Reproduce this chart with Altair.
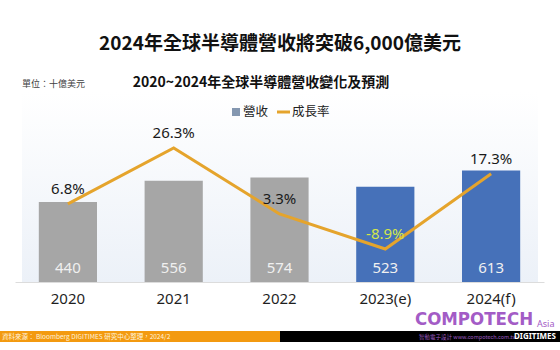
import altair as alt
import pandas as pd

# ---- data ----
years = ["2020", "2021", "2022", "2023(e)", "2024(f)"]
revenue = [440, 556, 574, 523, 613]
growth = [6.8, 26.3, 3.3, -8.9, 17.3]
kind = ["actual", "actual", "actual", "forecast", "forecast"]
growth_labels = ["6.8%", "26.3%", "3.3%", "-8.9%", "17.3%"]

df = pd.DataFrame({
    "year": years,
    "revenue": revenue,
    "growth": growth,
    "kind": kind,
    "glabel": growth_labels,
})

W, H = 529, 182
CJK = "Noto Sans CJK TC"
NUM = "Noto Sans"

xscale = alt.Scale(domain=years, paddingInner=0.45, paddingOuter=0.225)
x_axis = alt.X("year:N", sort=years, scale=xscale,
               axis=alt.Axis(title=None, labelAngle=0, labelFontSize=15, labelColor="#1f1f1f",
                             labelFont=NUM, labelPadding=9, ticks=False,
                             domainColor="#dcdcdc", domainWidth=1))

bar_y = alt.Scale(domain=[0, 1000], nice=False, zero=True)
rate_y = alt.Scale(domain=[-20.4, 43], nice=False, zero=False)

one = alt.Data(values=[{}])


def deco_text(s, x, y, **kw):
    return alt.Chart(one).mark_text(text=s, **kw).encode(x=alt.value(x), y=alt.value(y))


def deco_rect(x, x2, y, y2, color):
    return alt.Chart(one).mark_rect(color=color).encode(
        x=alt.value(x), x2=alt.value(x2), y=alt.value(y), y2=alt.value(y2))


# background gradient of the plot area
bg = alt.Chart(one).mark_rect().encode(
    x=alt.value(7), x2=alt.value(523), y=alt.value(-8), y2=alt.value(H),
    color=alt.value(alt.LinearGradient(
        gradient="linear", x1=0, y1=0, x2=0, y2=1,
        stops=[alt.GradientStop(color="#ffffff", offset=0),
               alt.GradientStop(color="#ecf1f8", offset=1)])),
)

bars = alt.Chart(df).mark_bar().encode(
    x=x_axis,
    y=alt.Y("revenue:Q", scale=bar_y, axis=None),
    color=alt.Color("kind:N", scale=alt.Scale(domain=["actual", "forecast"],
                                              range=["#a6a6a6", "#4671b9"]), legend=None),
)

bar_labels = alt.Chart(df).transform_calculate(zero="0").mark_text(
    font=NUM, fontSize=15, color="#f0f0f0", baseline="middle", dy=-14
).encode(
    x=x_axis,
    y=alt.Y("zero:Q", scale=bar_y, axis=None),
    text="revenue:Q",
)

line = alt.Chart(df).mark_line(color="#e5a42c", strokeWidth=3).encode(
    x=x_axis,
    y=alt.Y("growth:Q", scale=rate_y, axis=None),
)

line_labels = alt.Chart(df).mark_text(
    font=NUM, fontSize=15, baseline="middle", dy=-15
).encode(
    x=x_axis,
    y=alt.Y("growth:Q", scale=rate_y, axis=None),
    text="glabel:N",
    color=alt.condition("datum.growth < 0", alt.value("#d4e64a"), alt.value("#1a1a1a")),
)

# titles / legend / footer decorations (pixel positions relative to plot origin)
title = deco_text("2024年全球半導體營收將突破6,000億美元", 265, -56,
                  font=CJK, fontSize=19, fontWeight="bold", color="#111111", baseline="middle")
subtitle = deco_text("2020~2024年全球半導體營收變化及預測", 246, -17,
                     font=CJK, fontSize=14, fontWeight="bold", color="#111111", baseline="middle")
unit = deco_text("單位：十億美元", 7, -16, font=CJK, fontSize=9, color="#404040",
                 align="left", baseline="middle")

leg_sq = alt.Chart(one).mark_square(color="#8497b0", size=64, opacity=1).encode(
    x=alt.value(221), y=alt.value(12))
leg_t1 = deco_text("營收", 228, 12, font=CJK, fontSize=12.5, color="#222222",
                   align="left", baseline="middle")
leg_ln = alt.Chart(one).mark_rule(color="#e5a42c", strokeWidth=3).encode(
    x=alt.value(262), x2=alt.value(275), y=alt.value(12))
leg_t2 = deco_text("成長率", 277, 12, font=CJK, fontSize=12.5, color="#222222",
                   align="left", baseline="middle")

FY = H  # footer offsets measured from the plot's bottom edge
foot_orange = deco_rect(-15, 267, FY + 49, FY + 60, "#f39a10")
foot_black = deco_rect(265, 545, FY + 49, FY + 60, "#000000")
foot_text = deco_text("資料來源：  Bloomberg DIGITIMES 研究中心整理，2024/2", -13, FY + 54.5,
                      font=CJK, fontSize=6.5, color="#fff3dc", align="left", baseline="middle")
compo = deco_text("COMPOTECH", 459, FY + 37,
                  font="DejaVu Sans Condensed, Liberation Sans Narrow, Roboto", fontSize=18.5,
                  fontWeight="bold", color="#a35cc6", baseline="middle")
asia = deco_text("Asia", 522, FY + 42, font=NUM, fontSize=9, color="#a35cc6",
                 align="left", baseline="middle")
compo_sub = deco_text("智動電子設計 www.compotech.com.tw", 404, FY + 55, font=CJK, fontSize=5.5,
                      color="#9d5ac0", align="left", baseline="middle")
digi = deco_text("DIGITIMES", 541, FY + 55, font=NUM, fontSize=8, fontWeight="bold",
                 color="#ffffff", align="right", baseline="middle")

bar_layer = alt.layer(bars, bar_labels)
line_layer = alt.layer(line, line_labels)

chart = alt.layer(
    bg, bar_layer, line_layer,
    title, subtitle, unit, leg_sq, leg_t1, leg_ln, leg_t2,
    foot_orange, foot_black, foot_text, compo, asia, compo_sub, digi,
).resolve_scale(y="independent").properties(
    width=W, height=H,
    autosize=alt.AutoSizeParams(type="none"),
    padding={"left": 15, "top": 100, "right": 16, "bottom": 68},
    background="#ffffff",
).configure_view(stroke=None)

chart.save("out.html", embed_options={"renderer": "svg", "actions": False})
